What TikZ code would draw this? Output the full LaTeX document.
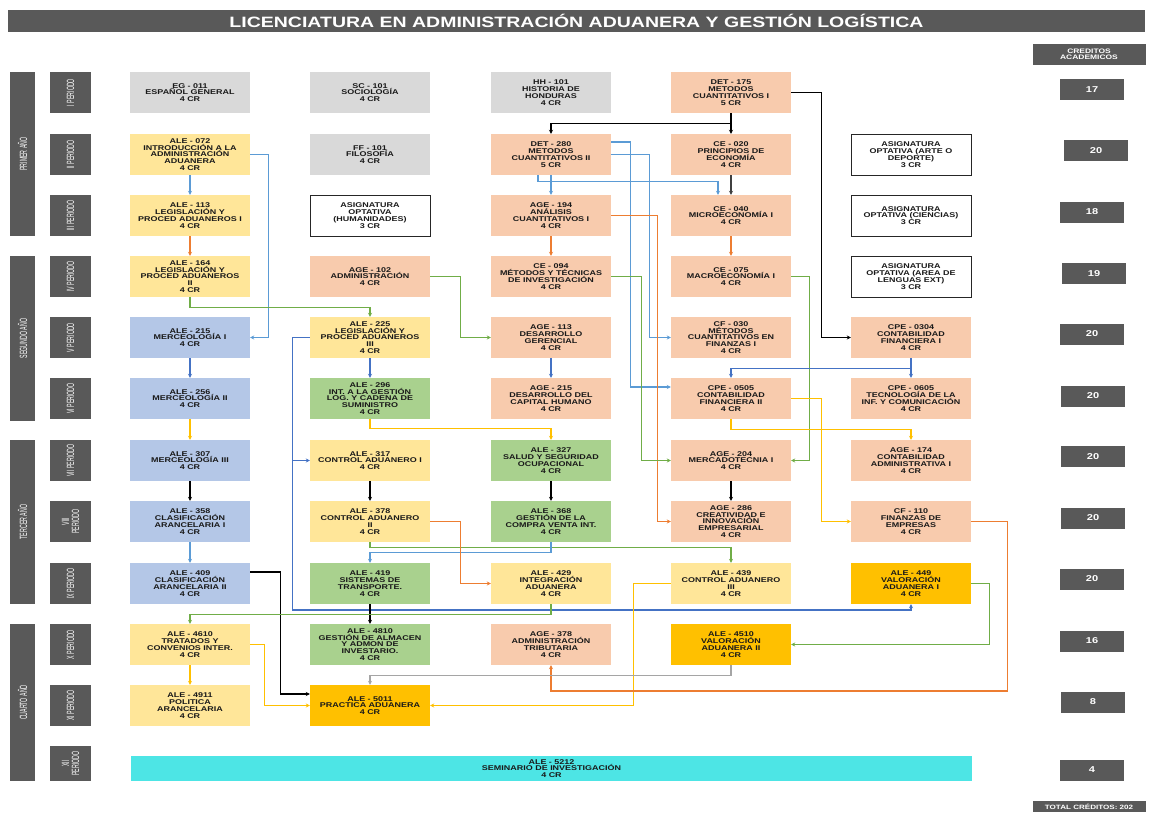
\documentclass[tikz,border=0pt]{standalone}
\usepackage{fontspec}
\setmainfont{Liberation Sans}
\newfontfamily\boxfont[FakeStretch=1.3]{Liberation Sans}
\newfontfamily\narrowfont[FakeStretch=0.5]{Liberation Sans}
\usetikzlibrary{arrows.meta}
\definecolor{cdark}{RGB}{89,89,89}
\definecolor{cgray}{RGB}{217,217,217}
\definecolor{cyel}{RGB}{255,230,153}
\definecolor{cpeach}{RGB}{248,203,173}
\definecolor{cblue}{RGB}{180,199,231}
\definecolor{cgreen}{RGB}{169,209,142}
\definecolor{cgold}{RGB}{255,192,0}
\definecolor{ccyan}{RGB}{77,229,229}
\definecolor{llblue}{RGB}{91,155,213}
\definecolor{ldblue}{RGB}{68,114,196}
\definecolor{lorange}{RGB}{237,125,49}
\definecolor{lgreen}{RGB}{112,173,71}
\definecolor{lgold}{RGB}{255,192,0}
\definecolor{lgray}{RGB}{165,165,165}

\begin{document}
\begin{tikzpicture}[x=1pt,y=-1pt,
  course/.style={minimum width=120pt,minimum height=41pt,inner sep=0pt,align=center,
                 font=\boxfont\bfseries\fontsize{6.9}{6.8}\selectfont,text=black!90},
  graybox/.style={course,fill=cgray},
  yellowbox/.style={course,fill=cyel},
  peachbox/.style={course,fill=cpeach},
  bluebox/.style={course,fill=cblue},
  greenbox/.style={course,fill=cgreen},
  goldbox/.style={course,fill=cgold},
  optbox/.style={course,fill=white,draw=black!85,line width=1pt},
  period/.style={fill=cdark,rotate=90,minimum width=41pt,minimum height=41pt,inner sep=0pt,
                 align=center,text=white,font=\narrowfont\fontsize{10.5}{10}\selectfont},
  yearbox/.style={fill=cdark,rotate=90,minimum height=25pt,inner sep=0pt,
                 text=white,font=\narrowfont\fontsize{10.5}{10}\selectfont},
  credit/.style={fill=cdark,minimum width=64pt,minimum height=21pt,inner sep=0pt,align=center,
                 text=white,font=\boxfont\bfseries\fontsize{8.5}{8}\selectfont},
  arr/.style={-{Stealth[length=4pt,width=4pt]},line width=1.2pt}
]
\useasboundingbox (0,0) rectangle (1152,812);

% title and header
\node[fill=cdark,minimum width=1137pt,minimum height=22pt,inner sep=0pt,text=white,
      font=\boxfont\bfseries\fontsize{15}{14}\selectfont] (ttl) at (576.5,21)
      {LICENCIATURA EN ADMINISTRACIÓN ADUANERA Y GESTIÓN LOGÍSTICA};
\node[credit,minimum width=113pt,font=\boxfont\bfseries\fontsize{6.5}{6.5}\selectfont] (hdr) at (1089,54.5) {CREDITOS\\ACADEMICOS};

% years
\node[yearbox,minimum width=164pt] (y1) at (22.5,154) {PRIMER AÑO};
\node[yearbox,minimum width=165pt] (y2) at (22.5,338.5) {SEGUNDO AÑO};
\node[yearbox,minimum width=164pt] (y3) at (22.5,522) {TERCER AÑO};
\node[yearbox,minimum width=157pt] (y4) at (22.5,702.5) {CUARTO AÑO};

% periods
\node[period] (p1)  at (70.5,92.5)  {I PERIODO};
\node[period] (p2)  at (70.5,154.5) {II PERIODO};
\node[period] (p3)  at (70.5,215.5) {III PERIODO};
\node[period] (p4)  at (70.5,276.5) {IV PERIODO};
\node[period] (p5)  at (70.5,337.5) {V PERIODO};
\node[period] (p6)  at (70.5,398.5) {VI PERIODO};
\node[period] (p7)  at (70.5,460.5) {VII PERIODO};
\node[period] (p8)  at (70.5,521.5) {VIII\\PERIODO};
\node[period] (p9)  at (70.5,583.5) {IX PERIODO};
\node[period] (p10) at (70.5,644.5) {X PERIODO};
\node[period] (p11) at (70.5,705.5) {XI PERIODO};
\node[period,minimum width=35pt] (p12) at (70.5,763.5) {XII\\PERIODO};

% I periodo
\node[graybox]  (e011) at (190,92.5) {EG - 011\\ESPAÑOL GENERAL\\4 CR};
\node[graybox]  (s101) at (370,92.5) {SC - 101\\SOCIOLOGÍA\\4 CR};
\node[graybox]  (h101) at (551,92.5) {HH - 101\\HISTORIA DE\\HONDURAS\\4 CR};
\node[peachbox] (d175) at (731,92.5) {DET - 175\\METODOS\\CUANTITATIVOS I\\5 CR};
% II periodo
\node[yellowbox] (a072) at (190,154.5) {ALE - 072\\INTRODUCCIÓN A LA\\ADMINISTRACIÓN\\ADUANERA\\4 CR};
\node[graybox]   (f101) at (370,154.5) {FF - 101\\FILOSOFÍA\\4 CR};
\node[peachbox]  (d280) at (551,154.5) {DET - 280\\METODOS\\CUANTITATIVOS II\\5 CR};
\node[peachbox]  (c020) at (731,154.5) {CE - 020\\PRINCIPIOS DE\\ECONOMÍA\\4 CR};
\node[optbox]    (o1)   at (911,154.5) {ASIGNATURA\\OPTATIVA (ARTE O\\DEPORTE)\\3 CR};
% III periodo
\node[yellowbox] (a113) at (190,215.5) {ALE - 113\\LEGISLACIÓN Y\\PROCED ADUANEROS I\\4 CR};
\node[optbox]    (o2)   at (370,215.5) {ASIGNATURA\\OPTATIVA\\(HUMANIDADES)\\3 CR};
\node[peachbox]  (g194) at (551,215.5) {AGE - 194\\ANÁLISIS\\CUANTITATIVOS I\\4 CR};
\node[peachbox]  (c040) at (731,215.5) {CE - 040\\MICROECONOMÍA I\\4 CR};
\node[optbox]    (o3)   at (911,215.5) {ASIGNATURA\\OPTATIVA (CIENCIAS)\\3 CR};
% IV periodo
\node[yellowbox] (a164) at (190,276.5) {ALE - 164\\LEGISLACIÓN Y\\PROCED ADUANEROS\\II\\4 CR};
\node[peachbox]  (g102) at (370,276.5) {AGE - 102\\ADMINISTRACIÓN\\4 CR};
\node[peachbox]  (c094) at (551,276.5) {CE - 094\\MÉTODOS Y TÉCNICAS\\DE INVESTIGACIÓN\\4 CR};
\node[peachbox]  (c075) at (731,276.5) {CE - 075\\MACROECONOMÍA I\\4 CR};
\node[optbox]    (o4)   at (911,276.5) {ASIGNATURA\\OPTATIVA (AREA DE\\LENGUAS EXT)\\3 CR};
% V periodo
\node[bluebox]   (a215) at (190,337.5) {ALE - 215\\MERCEOLOGÍA I\\4 CR};
\node[yellowbox] (a225) at (370,337.5) {ALE - 225\\LEGISLACIÓN Y\\PROCED ADUANEROS\\III\\4 CR};
\node[peachbox]  (g113) at (551,337.5) {AGE - 113\\DESARROLLO\\GERENCIAL\\4 CR};
\node[peachbox]  (f030) at (731,337.5) {CF - 030\\MÉTODOS\\CUANTITATIVOS EN\\FINANZAS I\\4 CR};
\node[peachbox]  (k304) at (911,337.5) {CPE - 0304\\CONTABILIDAD\\FINANCIERA I\\4 CR};
% VI periodo
\node[bluebox]   (a256) at (190,398.5) {ALE - 256\\MERCEOLOGÍA II\\4 CR};
\node[greenbox]  (a296) at (370,398.5) {ALE - 296\\INT. A LA GESTIÓN\\LOG. Y CADENA DE\\SUMINISTRO\\4 CR};
\node[peachbox]  (g215) at (551,398.5) {AGE - 215\\DESARROLLO DEL\\CAPITAL HUMANO\\4 CR};
\node[peachbox]  (k505) at (731,398.5) {CPE - 0505\\CONTABILIDAD\\FINANCIERA II\\4 CR};
\node[peachbox]  (k605) at (911,398.5) {CPE - 0605\\TECNOLOGÍA DE LA\\INF. Y COMUNICACIÓN\\4 CR};
% VII periodo
\node[bluebox]   (a307) at (190,460.5) {ALE - 307\\MERCEOLOGÍA III\\4 CR};
\node[yellowbox] (a317) at (370,460.5) {ALE - 317\\CONTROL ADUANERO I\\4 CR};
\node[greenbox]  (a327) at (551,460.5) {ALE - 327\\SALUD Y SEGURIDAD\\OCUPACIONAL\\4 CR};
\node[peachbox]  (g204) at (731,460.5) {AGE - 204\\MERCADOTECNIA I\\4 CR};
\node[peachbox]  (g174) at (911,460.5) {AGE - 174\\CONTABILIDAD\\ADMINISTRATIVA I\\4 CR};
% VIII periodo
\node[bluebox]   (a358) at (190,521.5) {ALE - 358\\CLASIFICACIÓN\\ARANCELARIA I\\4 CR};
\node[yellowbox] (a378) at (370,521.5) {ALE - 378\\CONTROL ADUANERO\\II\\4 CR};
\node[greenbox]  (a368) at (551,521.5) {ALE - 368\\GESTIÓN DE LA\\COMPRA VENTA INT.\\4 CR};
\node[peachbox]  (g286) at (731,521.5) {AGE - 286\\CREATIVIDAD E\\INNOVACIÓN\\EMPRESARIAL\\4 CR};
\node[peachbox]  (f110) at (911,521.5) {CF - 110\\FINANZAS DE\\EMPRESAS\\4 CR};
% IX periodo
\node[bluebox]   (a409) at (190,583.5) {ALE - 409\\CLASIFICACIÓN\\ARANCELARIA II\\4 CR};
\node[greenbox]  (a419) at (370,583.5) {ALE - 419\\SISTEMAS DE\\TRANSPORTE.\\4 CR};
\node[yellowbox] (a429) at (551,583.5) {ALE - 429\\INTEGRACIÓN\\ADUANERA\\4 CR};
\node[yellowbox] (a439) at (731,583.5) {ALE - 439\\CONTROL ADUANERO\\III\\4 CR};
\node[goldbox]   (a449) at (911,583.5) {ALE - 449\\VALORACIÓN\\ADUANERA I\\4 CR};
% X periodo
\node[yellowbox] (a4610) at (190,644.5) {ALE - 4610\\TRATADOS Y\\CONVENIOS INTER.\\4 CR};
\node[greenbox]  (a4810) at (370,644.5) {ALE - 4810\\GESTIÓN DE ALMACEN\\Y ADMON DE\\INVESTARIO.\\4 CR};
\node[peachbox]  (g378)  at (551,644.5) {AGE - 378\\ADMINISTRACIÓN\\TRIBUTARIA\\4 CR};
\node[goldbox]   (a4510) at (731,644.5) {ALE - 4510\\VALORACIÓN\\ADUANERA II\\4 CR};
% XI periodo
\node[yellowbox] (a4911) at (190,705.5) {ALE - 4911\\POLITICA\\ARANCELARIA\\4 CR};
\node[goldbox]   (a5011) at (370,705.5) {ALE - 5011\\PRACTICA ADUANERA\\4 CR};
% XII periodo
\node[course,fill=ccyan,minimum width=841pt,minimum height=25pt] (a5212) at (551.5,768.5) {ALE - 5212\\SEMINARIO DE INVESTIGACIÓN\\4 CR};

% credits
\node[credit] (n1)  at (1092,89.5)  {17};
\node[credit] (n2)  at (1096,150.5) {20};
\node[credit] (n3)  at (1092,212)   {18};
\node[credit] (n4)  at (1094,273.5) {19};
\node[credit] (n5)  at (1092,334)   {20};
\node[credit] (n6)  at (1093,396)   {20};
\node[credit] (n7)  at (1093,456.5) {20};
\node[credit] (n8)  at (1093,518)   {20};
\node[credit] (n9)  at (1092,579)   {20};
\node[credit] (n10) at (1092,641)   {16};
\node[credit] (n11) at (1093,702)   {8};
\node[credit] (n12) at (1092,770)   {4};
\node[credit,minimum width=113pt,minimum height=11pt,font=\boxfont\bfseries\fontsize{6.2}{6.2}\selectfont] (tot) at (1089,806.5) {TOTAL CRÉDITOS: 202};

% prerequisites
\draw[arr,black] (d175)--(c020);
\draw[arr,black] (d175.south)--++(0,10)-|(d280.north);
\draw[arr,black] (d175.east)--++(30,0)|-(k304.west);
\draw[arr,llblue] (a072)--(a113);
\draw[arr,llblue] (a072.east)--++(18,0)|-(a215.east);
\draw[arr,llblue] (d280)--(g194);
\draw[arr,llblue] ([xshift=-13]d280.south)--++(0,6)-|([xshift=-13]c040.north);
\draw[arr,llblue] ([yshift=12.5]d280.east)--++(19,0)|-([yshift=11.5]k505.west);
\draw[arr,llblue] (d280.east)--++(38,0)|-(f030.west);
\draw[arr,black!75] (c020)--(c040);
\draw[arr,lorange] (a113)--(a164);
\draw[arr,lorange] (g194)--(c094);
\draw[arr,lorange] (g194.east)--++(46,0)|-(g286.west);
\draw[arr,lorange] (c040)--(c075);
\draw[arr,lgreen] (a164.south)--++(0,10)-|(a225.north);
\draw[arr,lgreen] (g102.east)--++(30,0)|-(g113.west);
\draw[arr,lgreen] (c094.east)--++(30,0)|-(g204.west);
\draw[arr,lgreen] (c075.east)--++(18,0)|-(g204.east);
\draw[arr,ldblue] (a215)--(a256);
\draw[arr,ldblue] (a225)--(a296);
\draw[arr,ldblue] (a225.west)--++(-17,0)--++(0,272.5)-|(a449.south);
\draw[arr,ldblue] ([xshift=-17]a225.west)|-(a317.west);
\draw[arr,ldblue] (g113)--(g215);
\draw[arr,ldblue] (k304)--(k605);
\draw[arr,ldblue] (k304.south)--++(0,10)-|(k505.north);
\draw[arr,lgold] (a256)--(a307);
\draw[arr,lgold] (a296.south)--++(0,9.5)-|(a327.north);
\draw[arr,lgold] (k505.south)--++(0,10)-|(g174.north);
\draw[arr,lgold] (k505.east)--++(30,0)|-(f110.west);
\draw[arr,black] (a307)--(a358);
\draw[arr,black] (a317)--(a378);
\draw[arr,black] (a327)--(a368);
\draw[arr,black] (g204)--(g286);
\draw[arr,llblue] (a358)--(a409);
\draw[arr,lgreen] (a378.south)--++(0,5)-|(a439.north);
\draw[arr,llblue] (a368.south)--++(0,10)-|(a419.north);
\draw[arr,lorange] (a378.east)--++(30,0)|-(a429.west);
\draw[arr,black] ([yshift=11.5]a409.east)--++(30,0)|-([yshift=11.5]a5011.west);
\draw[arr,black] (a419)--(a4810);
\draw[arr,lgreen] (a429.south)--++(0,10)-|(a4610.north);
\draw[arr,lgold] (a439.west)--++(-37,0)|-(a5011.east);
\draw[arr,lgreen] (a449.east)--++(18,0)|-(a4510.east);
\draw[arr,lorange] (f110.east)--++(36,0)--++(0,169.5)-|(g378.south);
\draw[arr,lgray] (a4510.south)--++(0,10)-|(a5011.north);
\draw[arr,lgold] (a4610)--(a4911);
\draw[arr,lgold] (a4610.east)--++(14,0)|-(a5011.west);
\end{tikzpicture}
\end{document}
